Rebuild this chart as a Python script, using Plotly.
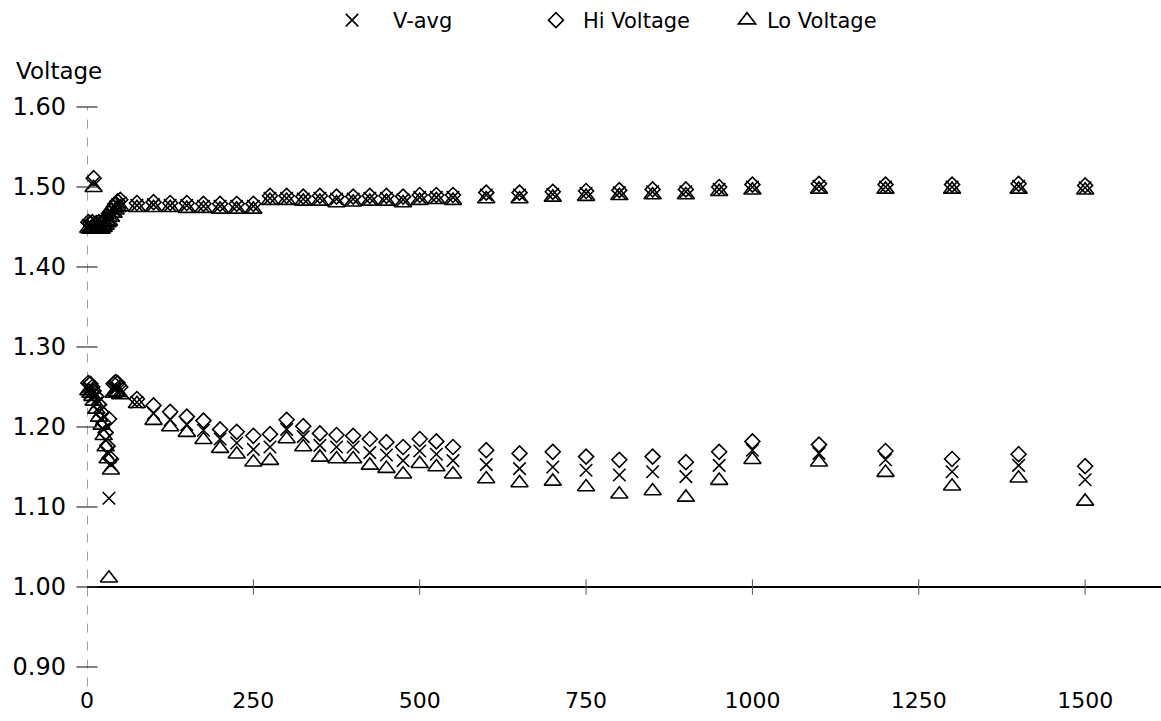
import plotly.graph_objects as go

# Cycle numbers
cycles = [2, 5, 8, 10, 14, 18, 22, 25, 28, 31, 33, 36, 40, 43, 46, 50,
          75, 100, 125, 150, 175, 200, 225, 250, 275, 300, 325, 350, 375, 400,
          425, 450, 475, 500, 525, 550, 600, 650, 700, 750, 800, 850, 900, 950,
          1000, 1100, 1200, 1300, 1400, 1500]

# End-of-charge voltages
hi_charge = [1.456, 1.455, 1.456, 1.511, 1.455, 1.456, 1.455, 1.457, 1.460, 1.463, 1.467, 1.470, 1.475, 1.479, 1.482, 1.484,
             1.480, 1.481, 1.480, 1.480, 1.479, 1.479, 1.479, 1.479, 1.489, 1.489, 1.488, 1.489, 1.488, 1.488,
             1.489, 1.489, 1.488, 1.490, 1.490, 1.490, 1.493, 1.493, 1.494, 1.495, 1.496, 1.497, 1.497, 1.500,
             1.503, 1.504, 1.503, 1.503, 1.504, 1.502]
avg_charge = [1.452, 1.451, 1.452, 1.505, 1.451, 1.452, 1.451, 1.453, 1.456, 1.459, 1.462, 1.466, 1.471, 1.475, 1.478, 1.480,
              1.477, 1.478, 1.477, 1.477, 1.476, 1.476, 1.476, 1.476, 1.486, 1.486, 1.485, 1.486, 1.485, 1.485,
              1.486, 1.486, 1.484, 1.487, 1.487, 1.487, 1.490, 1.490, 1.491, 1.492, 1.493, 1.494, 1.494, 1.497,
              1.500, 1.501, 1.500, 1.500, 1.501, 1.499]
lo_charge = [1.448, 1.447, 1.448, 1.499, 1.447, 1.448, 1.447, 1.449, 1.452, 1.455, 1.457, 1.462, 1.467, 1.471, 1.474, 1.475,
             1.474, 1.474, 1.474, 1.473, 1.473, 1.472, 1.472, 1.472, 1.483, 1.483, 1.482, 1.482, 1.480, 1.481,
             1.482, 1.482, 1.480, 1.483, 1.484, 1.483, 1.485, 1.485, 1.487, 1.488, 1.489, 1.490, 1.490, 1.494,
             1.496, 1.497, 1.497, 1.497, 1.497, 1.496]

# End-of-discharge voltages
hi_disch = [1.255, 1.254, 1.250, 1.245, 1.238, 1.228, 1.218, 1.205, 1.193, 1.176, 1.210, 1.160, 1.254, 1.256, 1.255, 1.250,
            1.235, 1.227, 1.219, 1.213, 1.208, 1.197, 1.194, 1.189, 1.191, 1.209, 1.201, 1.192, 1.190, 1.189,
            1.185, 1.181, 1.175, 1.185, 1.182, 1.175, 1.171, 1.167, 1.169, 1.163, 1.159, 1.163, 1.156, 1.169,
            1.182, 1.178, 1.170, 1.160, 1.166, 1.151]
avg_disch = [1.250, 1.248, 1.244, 1.238, 1.230, 1.220, 1.210, 1.197, 1.184, 1.168, 1.111, 1.153, 1.248, 1.250, 1.249, 1.245,
             1.231, 1.217, 1.209, 1.203, 1.196, 1.185, 1.180, 1.172, 1.175, 1.197, 1.188, 1.177, 1.175, 1.175,
             1.168, 1.165, 1.158, 1.170, 1.166, 1.158, 1.153, 1.148, 1.150, 1.146, 1.140, 1.144, 1.138, 1.152,
             1.171, 1.167, 1.159, 1.144, 1.152, 1.134]
lo_disch = [1.245, 1.242, 1.238, 1.232, 1.222, 1.212, 1.202, 1.189, 1.175, 1.160, 1.011, 1.146, 1.242, 1.244, 1.243, 1.240,
            1.229, 1.208, 1.200, 1.193, 1.184, 1.173, 1.166, 1.156, 1.158, 1.185, 1.175, 1.162, 1.160, 1.160,
            1.152, 1.148, 1.141, 1.154, 1.150, 1.141, 1.135, 1.130, 1.132, 1.125, 1.116, 1.120, 1.112, 1.133,
            1.159, 1.156, 1.143, 1.126, 1.136, 1.107]

x_ticks = [0, 250, 500, 750, 1000, 1250, 1500]
y_ticks = [0.90, 1.00, 1.10, 1.20, 1.30, 1.40, 1.50, 1.60]

FONT = "DejaVu Sans"
INK = "black"

fig = go.Figure()

series = [
    ("V-avg", avg_charge, avg_disch, "x-thin-open", 12.5, "legend"),
    ("Hi Voltage", hi_charge, hi_disch, "diamond-open", 11.5, "legend2"),
    ("Lo Voltage", lo_charge, lo_disch, "triangle-up-open", 15, "legend3"),
]
for name, up, down, sym, size, leg in series:
    fig.add_trace(go.Scatter(
        x=cycles + cycles, y=up + down, name=name, mode="markers",
        marker=dict(symbol=sym, size=size, color=INK, line=dict(color=INK, width=1.6)),
        cliponaxis=False, legend=leg,
    ))

# cross-style tick marks on the two axes
fig.add_trace(go.Scatter(
    x=x_ticks[1:], y=[1.0] * (len(x_ticks) - 1), mode="markers",
    marker=dict(symbol="line-ns", size=11, line=dict(color="#555", width=1)),
    showlegend=False, hoverinfo="skip", cliponaxis=False,
))
fig.add_trace(go.Scatter(
    x=[0] * len(y_ticks), y=y_ticks, mode="markers",
    marker=dict(symbol="line-ew", size=15, line=dict(color="#333", width=1.2)),
    showlegend=False, hoverinfo="skip", cliponaxis=False,
))

# dashed vertical axis and solid horizontal line at 1.00 V
fig.add_shape(type="line", xref="x", yref="paper", x0=0, x1=0, y0=-0.035, y1=1.0,
              line=dict(color="#444", width=1, dash="dash"), layer="below")
fig.add_shape(type="line", xref="paper", yref="y", x0=0, x1=1, y0=1.0, y1=1.0,
              line=dict(color=INK, width=2), layer="below")

fig.add_annotation(text="Voltage", xref="paper", yref="paper",
                   x=-0.068, y=1.064, xanchor="left", yanchor="middle",
                   showarrow=False, font=dict(family=FONT, size=23, color=INK))

leg_common = dict(orientation="h", yanchor="middle", y=1.155, xanchor="left",
                  bgcolor="rgba(0,0,0,0)", font=dict(family=FONT, size=21, color=INK))

fig.update_layout(
    width=1161, height=721, autosize=False,
    margin=dict(l=87, r=0, t=107, b=54),
    paper_bgcolor="white", plot_bgcolor="white",
    font=dict(family=FONT, color=INK),
    legend=dict(leg_common, x=0.2086, itemwidth=72),
    legend2=dict(leg_common, x=0.4115, itemwidth=44),
    legend3=dict(leg_common, x=0.5959, itemwidth=30),
    xaxis=dict(range=[0, 1614], tickvals=x_ticks, showgrid=False, zeroline=False,
               showline=False, ticks="", ticklabelstandoff=18,
               tickfont=dict(family=FONT, size=22, color=INK)),
    yaxis=dict(range=[0.90, 1.60], tickvals=y_ticks, tickformat=".2f", showgrid=False,
               zeroline=False, showline=False, ticks="", ticklabelstandoff=20,
               tickfont=dict(family=FONT, size=24, color=INK)),
)

fig.write_html("out.html")
